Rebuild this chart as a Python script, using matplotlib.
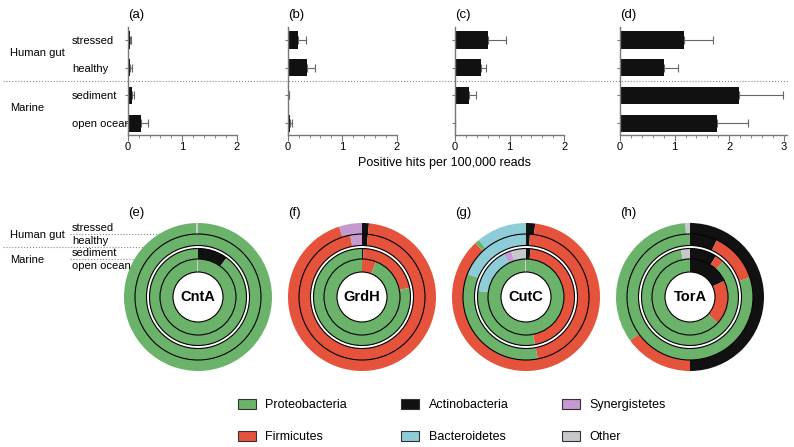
import matplotlib
matplotlib.use('Agg')
import matplotlib.pyplot as plt
from matplotlib.patches import Patch, Circle
from matplotlib.lines import Line2D
from matplotlib.ticker import MultipleLocator
import numpy as np

plt.rcParams['font.family'] = ['Liberation Sans', 'DejaVu Sans']

# ---- data: bar panels (hits per 100,000 reads) ----
envs = ['stressed', 'healthy', 'sediment', 'open ocean']
bar_titles = ['(a)', '(b)', '(c)', '(d)']
hits_a = [0.035, 0.05, 0.07, 0.25]
err_a = [0.02, 0.03, 0.05, 0.12]
hits_b = [0.18, 0.36, 0.02, 0.04]
err_b = [0.15, 0.14, 0.01, 0.03]
hits_c = [0.61, 0.47, 0.26, 0.005]
err_c = [0.33, 0.09, 0.13, 0.0]
hits_d = [1.18, 0.80, 2.18, 1.77]
err_d = [0.53, 0.27, 0.81, 0.58]
xmax = [2, 2, 2, 3.06]

# ---- data: donut panels, fractions per ring (clockwise from 12 o'clock) ----
phyla = ['Actinobacteria', 'Firmicutes', 'Proteobacteria', 'Bacteroidetes', 'Synergistetes', 'Other']
genes = ['CntA', 'GrdH', 'CutC', 'TorA']
donut_titles = ['(e)', '(f)', '(g)', '(h)']
# rings: stressed, healthy, sediment, open ocean
cnta = [[0, 0, 0.996, 0, 0, 0.004],
        [0, 0, 1.0, 0, 0, 0],
        [0.10, 0, 0.90, 0, 0, 0],
        [0, 0, 0.996, 0, 0, 0.004]]
grdh = [[0.015, 0.935, 0, 0, 0.05, 0],
        [0.015, 0.955, 0, 0, 0.03, 0],
        [0.005, 0.215, 0.78, 0, 0, 0],
        [0, 0.06, 0.94, 0, 0, 0]]
cutc = [[0.02, 0.86, 0.01, 0.11, 0, 0],
        [0.01, 0.46, 0.34, 0.19, 0, 0],
        [0.015, 0.455, 0.30, 0.155, 0.025, 0.05],
        [0, 0, 0.996, 0, 0, 0.004]]
tora = [[0.50, 0.15, 0.34, 0, 0, 0.01],
        [0.07, 0.13, 0.80, 0, 0, 0],
        [0.09, 0.03, 0.85, 0, 0, 0.03],
        [0.18, 0.19, 0.63, 0, 0, 0]]

colors = {'Proteobacteria': '#6BB26B', 'Firmicutes': '#E5533C', 'Actinobacteria': '#111111',
          'Bacteroidetes': '#8ECDD8', 'Synergistetes': '#C49AD0', 'Other': '#C8C8CC'}
legend_order = ['Proteobacteria', 'Firmicutes', 'Actinobacteria', 'Bacteroidetes', 'Synergistetes', 'Other']

W, H = 794, 447
fig = plt.figure(figsize=(W / 100, H / 100), dpi=100)


def fx(px):
    return px / W


def fy(py):
    return 1 - py / H


# ---- top bar charts ----
lefts = [127.7, 287.7, 455, 620]
ppu = 54.6
ypos = np.arange(4)
all_hits = [hits_a, hits_b, hits_c, hits_d]
all_err = [err_a, err_b, err_c, err_d]
for i in range(4):
    ax = fig.add_axes([fx(lefts[i]), fy(135), xmax[i] * ppu / W, 108 / H])
    ax.errorbar(all_hits[i], ypos, xerr=[np.zeros(4), all_err[i]], fmt='none',
                ecolor='#666666', elinewidth=0.8, capsize=3, capthick=0.8, zorder=1)
    ax.barh(ypos, all_hits[i], height=0.62, color='#111111', zorder=2)
    ax.set_ylim(3.43, -0.47)
    ax.set_xlim(0, xmax[i])
    ax.xaxis.set_major_locator(MultipleLocator(1))
    ax.xaxis.set_minor_locator(MultipleLocator(0.2))
    ax.tick_params(axis='x', which='major', length=4, width=0.8, color='#777777', labelsize=8, pad=1)
    ax.tick_params(axis='x', which='minor', length=2, width=0.6, color='#777777')
    ax.set_yticks(ypos)
    if i == 0:
        ax.set_yticklabels(envs, fontsize=8, ha='left')
        ax.tick_params(axis='y', length=2.5, width=0.8, color='#777777', pad=37.5)
    else:
        ax.set_yticklabels([])
        ax.tick_params(axis='y', length=2.5, width=0.8, color='#777777')
    for s in ['top', 'right']:
        ax.spines[s].set_visible(False)
    for s in ['left', 'bottom']:
        ax.spines[s].set_color('#777777')
        ax.spines[s].set_linewidth(1)
    fig.text(fx(lefts[i]), fy(15), bar_titles[i], va='center', ha='left', fontsize=9.5)

fig.add_artist(Line2D([fx(3), fx(788)], [fy(81), fy(81)], ls=':', color='#888888', lw=0.8))
fig.text(fx(10), fy(53), 'Human gut', va='center', fontsize=8)
fig.text(fx(10), fy(108), 'Marine', va='center', fontsize=8)
fig.text(fx(444), fy(163), 'Positive hits per 100,000 reads', ha='center', va='center', fontsize=9)

# ---- donut charts ----
rpx = 74.0
cy = 297
centers = [198, 362, 526, 690]
ring_out = [1.0, 63 / rpx, 48.5 / rpx, 38 / rpx]
ring_in = [63 / rpx, 51.5 / rpx, 38 / rpx, 25 / rpx]
all_comp = [cnta, grdh, cutc, tora]
pie_colors = [colors[p] for p in phyla]

# leader lines for the ring labels (behind the donuts)
fig.add_artist(Line2D([fx(70), fx(170)], [fy(cy - 63)] * 2, ls=':', color='#888888', lw=0.8, zorder=-1))
fig.add_artist(Line2D([fx(3), fx(188)], [fy(cy - 50)] * 2, ls=':', color='#888888', lw=0.8, zorder=-1))
fig.add_artist(Line2D([fx(70), fx(158)], [fy(cy - 38)] * 2, ls=':', color='#888888', lw=0.8, zorder=-1))
for lab, r in zip(envs, [68.5, 56.5, 44, 31]):
    fig.text(fx(72), fy(cy - r), lab, va='center', ha='left', fontsize=8)
fig.text(fx(10), fy(cy - 62), 'Human gut', va='center', fontsize=8)
fig.text(fx(10), fy(cy - 37), 'Marine', va='center', fontsize=8)

box = 170
for i in range(4):
    cx = centers[i]
    ax = fig.add_axes([fx(cx - box / 2), fy(cy + box / 2), box / W, box / H])
    lim = box / 2 / rpx
    for ring in range(4):
        ax.pie(all_comp[i][ring], colors=pie_colors, radius=ring_out[ring], startangle=90,
               counterclock=False, normalize=True,
               wedgeprops=dict(width=ring_out[ring] - ring_in[ring], edgecolor='none', linewidth=0))
    for r in [63 / rpx, 51.5 / rpx, 48.5 / rpx, 38 / rpx, 25 / rpx]:
        ax.add_patch(Circle((0, 0), r, fill=False, lw=0.8, ec='black'))
    ax.text(0, 0, genes[i], ha='center', va='center', fontsize=10.5, fontweight='bold')
    ax.set_xlim(-lim, lim)
    ax.set_ylim(-lim, lim)
    ax.set_aspect('equal')
    ax.axis('off')
    fig.text(fx(lefts[i]), fy(213), donut_titles[i], va='center', ha='left', fontsize=9.5)

# ---- legend ----
handles = [Patch(facecolor=colors[p], edgecolor='#333333', linewidth=0.8, label=p) for p in legend_order]
fig.legend(handles=handles, loc='upper left', bbox_to_anchor=(fx(238), fy(399)), ncol=3,
           frameon=False, fontsize=9, handlelength=1.4, handleheight=0.8, handletextpad=0.8,
           columnspacing=4.3, labelspacing=1.62, borderpad=0, borderaxespad=0)

fig.savefig('out.png', dpi=100)
